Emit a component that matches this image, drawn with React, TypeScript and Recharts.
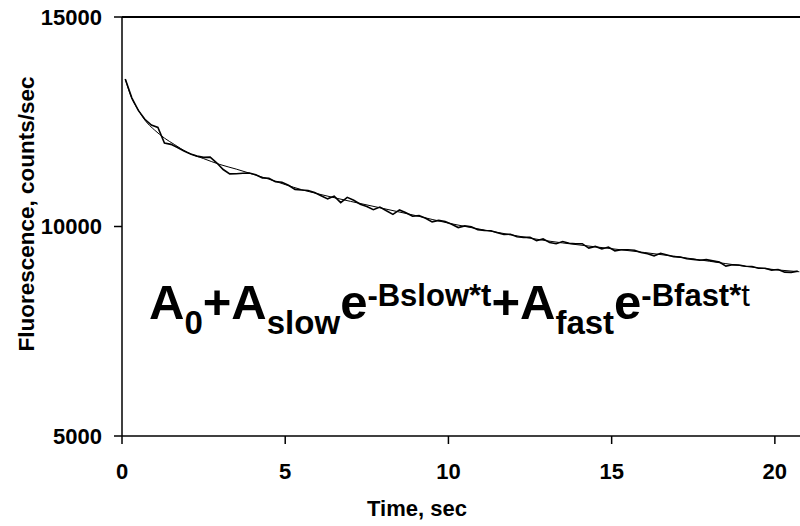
import React from "react";
import { LineChart, Line, XAxis, YAxis, ReferenceLine } from "recharts";

// Measured fluorescence (noisy data)
const dataTimes = [
  0.1, 0.3, 0.5, 0.7, 0.9, 1.1, 1.3, 1.5, 1.7, 1.9, 2.1, 2.3, 2.5, 2.7, 2.9, 3.1, 3.3, 3.5, 3.7, 3.9,
  4.1, 4.3, 4.5, 4.7, 4.9, 5.1, 5.3, 5.5, 5.7, 5.9, 6.1, 6.3, 6.5, 6.7, 6.9, 7.1, 7.3, 7.5, 7.7, 7.9,
  8.1, 8.3, 8.5, 8.7, 8.9, 9.1, 9.3, 9.5, 9.7, 9.9, 10.1, 10.3, 10.5, 10.7, 10.9, 11.1, 11.3, 11.5, 11.7, 11.9,
  12.1, 12.3, 12.5, 12.7, 12.9, 13.1, 13.3, 13.5, 13.7, 13.9, 14.1, 14.3, 14.5, 14.7, 14.9, 15.1, 15.3, 15.5, 15.7, 15.9,
  16.1, 16.3, 16.5, 16.7, 16.9, 17.1, 17.3, 17.5, 17.7, 17.9, 18.1, 18.3, 18.5, 18.7, 18.9, 19.1, 19.3, 19.5, 19.7, 19.9,
  20.1, 20.3, 20.5, 20.7,
];
const dataValues = [
  13520, 13070, 12770, 12560, 12420, 12365, 11990, 11960, 11885, 11800, 11730, 11680, 11650, 11655, 11520, 11360, 11255, 11260, 11270, 11275,
  11235, 11160, 11150, 11070, 11055, 10985, 10885, 10870, 10860, 10810, 10735, 10660, 10725, 10570, 10695, 10625, 10530, 10475, 10400, 10465,
  10375, 10290, 10395, 10330, 10245, 10260, 10195, 10110, 10145, 10120, 10055, 9975, 10015, 9995, 9925, 9905, 9900, 9850, 9810, 9815,
  9755, 9740, 9745, 9660, 9705, 9620, 9590, 9640, 9600, 9590, 9590, 9485, 9525, 9465, 9510, 9420, 9445, 9445, 9435, 9380,
  9350, 9300, 9360, 9320, 9280, 9270, 9230, 9215, 9195, 9210, 9180, 9150, 9055, 9085, 9080, 9050, 9045, 9005, 9005, 8960,
  8975, 8910, 8905, 8935,
];

// Fitted double-exponential curve
const fitTimes = [
  0.1, 0.3, 0.5, 0.7, 1.0, 1.3, 1.6, 2.0, 2.5, 3.0, 3.5, 4.0, 4.5, 5.0, 5.5, 6.0, 7.0, 8.0, 9.0, 10.0,
  11.0, 12.0, 13.0, 14.0, 15.0, 16.0, 17.0, 18.0, 19.0, 20.0, 20.75,
];
const fitValues = [
  13520, 13060, 12780, 12540, 12300, 12110, 11960, 11770, 11620, 11480, 11370, 11250, 11130, 11000, 10880, 10780, 10600, 10430, 10260, 10080,
  9930, 9790, 9660, 9560, 9470, 9380, 9280, 9170, 9060, 8970, 8920,
];

const xTicks = [0, 5, 10, 15, 20];
const yTicks = [5000, 10000, 15000];

const measured = dataTimes.map((t, i) => ({ t, v: dataValues[i] }));
const fitted = fitTimes.map((t, i) => ({ t, v: fitValues[i] }));

const FONT = "'Liberation Sans', Arial, Helvetica, sans-serif";
const W = 800;
const H = 526;

export default function App() {
  const tickStyle = { fontFamily: FONT, fontSize: 22, fontWeight: 700, fill: "#000" };
  return (
    <div style={{ position: "absolute", left: 0, top: 0, width: W, height: H, background: "#fff" }}>
      <LineChart width={W} height={H} margin={{ top: 17, right: 0, bottom: 30, left: 52 }}>
        <XAxis
          type="number"
          dataKey="t"
          domain={[0, 20.77]}
          ticks={xTicks}
          allowDataOverflow
          height={60}
          tickSize={8}
          tickMargin={19}
          tick={tickStyle}
          axisLine={{ stroke: "#000", strokeWidth: 1.5 }}
          tickLine={{ stroke: "#000", strokeWidth: 1.5 }}
        />
        <YAxis
          type="number"
          dataKey="v"
          domain={[5000, 15000]}
          ticks={yTicks}
          allowDataOverflow
          width={70}
          tickSize={8}
          tickMargin={12}
          tick={tickStyle}
          axisLine={{ stroke: "#000", strokeWidth: 1.5 }}
          tickLine={{ stroke: "#000", strokeWidth: 1.5 }}
        />
        <ReferenceLine y={15000} stroke="#000" strokeWidth={2} ifOverflow="visible" />
        <Line
          data={fitted}
          dataKey="v"
          type="monotone"
          stroke="#000"
          strokeWidth={1}
          dot={false}
          isAnimationActive={false}
        />
        <Line
          data={measured}
          dataKey="v"
          type="linear"
          stroke="#000"
          strokeWidth={1.6}
          dot={false}
          isAnimationActive={false}
        />
      </LineChart>
      <svg
        width={W}
        height={H}
        style={{ position: "absolute", left: 0, top: 0, pointerEvents: "none" }}
      >
        <text
          x={417}
          y={516}
          textAnchor="middle"
          fontFamily={FONT}
          fontSize={22}
          fontWeight={700}
          fill="#000"
        >
          Time, sec
        </text>
        <text
          x={0}
          y={0}
          transform="translate(34,214) rotate(-90)"
          textAnchor="middle"
          fontFamily={FONT}
          fontSize={22.5}
          fontWeight={700}
          fill="#000"
        >
          Fluorescence, counts/sec
        </text>
        <text x={149} y={319} fontFamily={FONT} fontWeight={700} fill="#000">
          <tspan fontSize={49}>A</tspan>
          <tspan fontSize={33} dy={15}>0</tspan>
          <tspan fontSize={49} dy={-15}>+A</tspan>
          <tspan fontSize={33} dy={15}>slow</tspan>
          <tspan fontSize={49} dy={-15}>e</tspan>
          <tspan fontSize={31} dy={-13}>-Bslow*t</tspan>
          <tspan fontSize={49} dy={13}>+A</tspan>
          <tspan fontSize={33} dy={15}>fast</tspan>
          <tspan fontSize={49} dy={-15}>e</tspan>
          <tspan fontSize={31} dy={-13}>-Bfast*</tspan>
          <tspan fontSize={31} fontWeight={400}>t</tspan>
        </text>
      </svg>
    </div>
  );
}
